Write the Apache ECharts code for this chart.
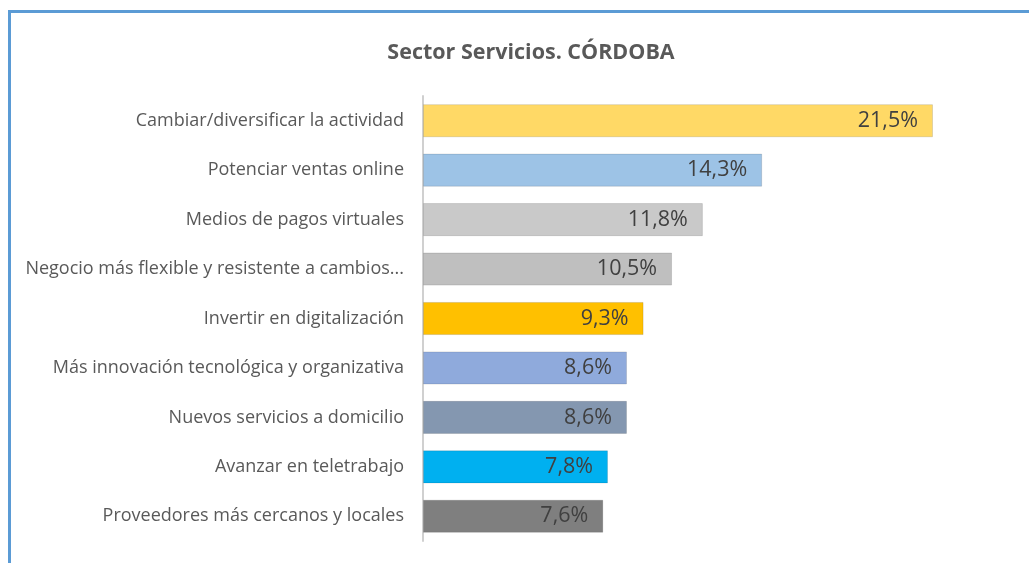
<!DOCTYPE html>
<html>
<head>
<meta charset="utf-8">
<script src="https://cdn.jsdelivr.net/npm/echarts@6/dist/echarts.min.js"></script>
<style>
  html, body { margin: 0; padding: 0; background: #fff; }
  #frame { position: absolute; left: 8px; top: 10px; right: 0; bottom: 0;
           border-top: 3px solid #5B9BD5; border-left: 3px solid #5B9BD5; }
  #chart { position: absolute; left: 0; top: 0; width: 1029px; height: 563px; }
</style>
</head>
<body>
<div id="frame"></div>
<div id="chart"></div>
<script>
// categorias y valores (%)
var categories = [
	'Cambiar/diversificar la actividad',
	'Potenciar ventas online',
	'Medios de pagos virtuales',
	'Negocio más flexible y resistente a cambios...',
	'Invertir en digitalización',
	'Más innovación tecnológica y organizativa',
	'Nuevos servicios a domicilio',
	'Avanzar en teletrabajo',
	'Proveedores más cercanos y locales'
];
var values = [21.5, 14.3, 11.8, 10.5, 9.3, 8.6, 8.6, 7.8, 7.6];
var barColors = ['#FFD966', '#9DC3E6', '#C9C9C9', '#BFBFBF', '#FFC000', '#8FAADC', '#8497B0', '#00B0F0', '#7F7F7F'];

var chart = echarts.init(document.getElementById('chart'));

var barData = [];
for (var i = 0; i < values.length; i++) {
	barData.push({
		value: values[i],
		itemStyle: { color: barColors[i] }
	});
}

var option = {
	animation: false,
	title: {
		text: 'Sector Servicios. CÓRDOBA',
		left: 526,
		textAlign: 'center',
		top: 37,
		textStyle: { fontFamily: 'Open Sans', fontSize: 21.5, fontWeight: 'bold', color: '#595959' }
	},
	grid: { left: 423, right: 13, top: 96, bottom: 22, containLabel: false },
	xAxis: {
		type: 'value',
		min: 0,
		max: 25,
		show: false
	},
	yAxis: {
		type: 'category',
		data: categories,
		inverse: true,
		axisLine: { show: true, lineStyle: { color: '#D0D0D0', width: 2 } },
		axisTick: { show: false },
		axisLabel: {
			margin: 19,
			fontFamily: 'Open Sans',
			fontSize: 18,
			color: '#595959'
		}
	},
	series: [{
		type: 'bar',
		data: barData,
		barCategoryGap: '33%',
		itemStyle: { borderColor: 'rgba(0,0,0,0.12)', borderWidth: 1 },
		label: {
			show: true,
			position: 'insideRight',
			distance: 15,
			fontFamily: 'Open Sans',
			fontSize: 21.5,
			color: '#404040',
			formatter: function (p) {
				return p.value.toFixed(1).replace('.', ',') + '%';
			}
		}
	}]
};
chart.setOption(option);
</script>
</body>
</html>
